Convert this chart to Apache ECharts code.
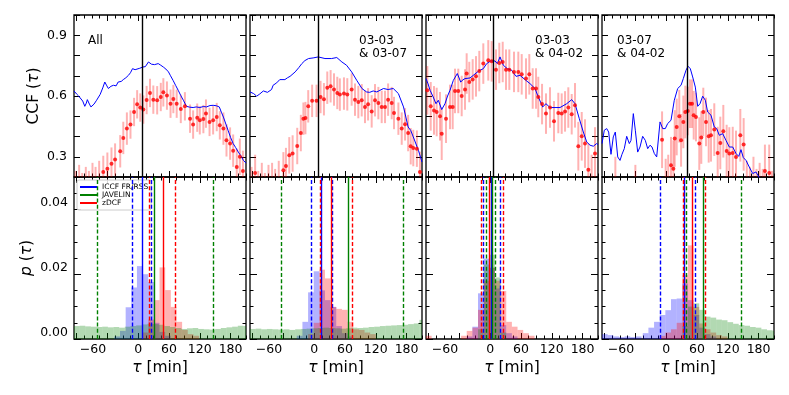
<!DOCTYPE html>
<html>
<head>
<meta charset="utf-8">
<script src="https://cdn.jsdelivr.net/npm/echarts@6/dist/echarts.min.js"></script>
<style>
  html, body { margin: 0; padding: 0; background: #fff; }
  #chart { width: 789px; height: 395px; }
</style>
</head>
<body>
<div id="chart"></div>
<script>
// ---- data ----
const panelLabels = ['All', '03-03\n& 03-07', '03-03\n& 04-02', '03-07\n& 04-02'];

// ICCF curves [tau, ccf]
const iccf1 = [[-125,0.625],[-120,0.61],[-116,0.60],[-113,0.595],[-108,0.575],[-104,0.549],[-101,0.565],[-99,0.582],[-95,0.56],[-92,0.546],[-86,0.56],[-81,0.579],[-74,0.608],[-69,0.64],[-65,0.669],[-61,0.65],[-58,0.637],[-53,0.648],[-48,0.653],[-43,0.65],[-39,0.669],[-33,0.672],[-29,0.681],[-24,0.69],[-19,0.702],[-15,0.715],[-11,0.735],[-6,0.73],[-3,0.727],[3,0.737],[9,0.743],[14,0.745],[20,0.768],[23,0.762],[26,0.757],[32,0.755],[39,0.760],[44,0.752],[49,0.743],[54,0.733],[59,0.719],[63,0.70],[68,0.677],[73,0.652],[78,0.628],[83,0.602],[88,0.579],[94,0.549],[100,0.545],[107,0.543],[113,0.546],[120,0.543],[127,0.548],[133,0.546],[140,0.553],[146,0.554],[152,0.552],[158,0.546],[162,0.52],[166,0.496],[171,0.46],[175,0.431],[180,0.395],[185,0.365],[190,0.345],[195,0.323],[200,0.305],[205,0.282],[210,0.269]];
const iccf2 = [[-125,0.620],[-118,0.612],[-112,0.599],[-106,0.61],[-99,0.625],[-91,0.618],[-83,0.632],[-80,0.653],[-73,0.665],[-67,0.681],[-57,0.681],[-52,0.69],[-47,0.697],[-37,0.719],[-30,0.74],[-24,0.760],[-18,0.775],[-11,0.785],[-2,0.788],[8,0.793],[21,0.785],[34,0.785],[44,0.790],[54,0.768],[63,0.752],[73,0.719],[83,0.677],[93,0.637],[102,0.620],[108,0.618],[115,0.625],[122,0.62],[128,0.628],[135,0.637],[144,0.632],[154,0.637],[164,0.612],[174,0.546],[183,0.447],[188,0.43],[193,0.398],[203,0.332],[210,0.274]];
const iccf3 = [[-125,0.686],[-121,0.66],[-117,0.628],[-111,0.595],[-105.5,0.562],[-101,0.579],[-94.4,0.533],[-88,0.562],[-83,0.6],[-78.3,0.628],[-71.8,0.677],[-64,0.711],[-57.4,0.669],[-53,0.68],[-49,0.686],[-39.3,0.689],[-32.9,0.702],[-23.1,0.722],[-13.4,0.735],[-6.8,0.760],[1,0.773],[9.4,0.773],[14,0.76],[19.1,0.793],[25.6,0.752],[33.4,0.735],[41.9,0.727],[50.3,0.697],[58.1,0.702],[67.8,0.681],[77.6,0.661],[87.3,0.637],[93.7,0.595],[102.3,0.546],[108.7,0.562],[116.5,0.543],[126.3,0.543],[136,0.543],[149.1,0.562],[158.8,0.582],[165.2,0.562],[173.6,0.488],[181.4,0.422],[188,0.373],[194.5,0.357],[200.9,0.352],[207.4,0.365],[210,0.36]];
const iccf4 = [[-125,0.365],[-120.5,0.431],[-115.8,0.439],[-112,0.422],[-107.5,0.312],[-103,0.398],[-99.1,0.422],[-94.4,0.299],[-89.9,0.282],[-86.1,0.312],[-81.6,0.340],[-76.9,0.401],[-71.8,0.365],[-68.5,0.381],[-64,0.513],[-60.1,0.431],[-55.5,0.323],[-51,0.348],[-45.8,0.401],[-40.7,0.381],[-36,0.340],[-31.5,0.357],[-27.6,0.348],[-23.1,0.316],[-18.5,0.299],[-12,0.472],[-6.8,0.439],[-1.7,0.439],[2.9,0.464],[9.4,0.480],[15.8,0.579],[22.4,0.637],[28.9,0.653],[33.4,0.686],[38.6,0.727],[42.5,0.747],[47,0.735],[51.6,0.694],[56.8,0.644],[61.4,0.549],[65.9,0.562],[71.1,0.599],[76.3,0.579],[80.8,0.521],[87.3,0.505],[93.7,0.447],[98.4,0.439],[103.5,0.406],[110.1,0.414],[116.5,0.381],[123,0.348],[129.6,0.348],[136,0.316],[141.3,0.302],[145.7,0.335],[150.2,0.296],[155.5,0.282],[161.9,0.249],[168.5,0.217],[174.9,0.225],[178.2,0.217],[185,0.18],[200,0.15],[210,0.14]];

// zDCF points [tau, ccf, error]
const zdcf1 = [[-122,0.14,0.09],[-115,0.17,0.09],[-109,0.12,0.1],[-102,0.16,0.09],[-96,0.13,0.1],[-89,0.18,0.09],[-83,0.15,0.1],[-76,0.19,0.09],[-68,0.225,0.08],[-60,0.241,0.08],[-52,0.266,0.08],[-45,0.286,0.08],[-35,0.327,0.08],[-29,0.393,0.08],[-22,0.439,0.08],[-15,0.459,0.07],[-8,0.521,0.07],[-2,0.559,0.07],[4,0.543,0.07],[10,0.533,0.07],[16.5,0.58,0.07],[23,0.615,0.07],[29.5,0.582,0.07],[37,0.579,0.07],[44,0.595,0.07],[49,0.618,0.07],[56,0.602,0.07],[63,0.562,0.07],[68.5,0.585,0.07],[75,0.562,0.07],[83,0.536,0.07],[91,0.549,0.07],[101,0.488,0.07],[107,0.459,0.07],[115,0.493,0.07],[120,0.480,0.07],[127,0.486,0.07],[132,0.513,0.07],[139,0.472,0.07],[146,0.480,0.07],[153,0.496,0.07],[159,0.455,0.07],[166,0.439,0.08],[172,0.381,0.08],[179,0.365,0.08],[185,0.33,0.08],[192,0.25,0.09],[198,0.30,0.09],[204,0.23,0.1]];
const zdcf2 = [[-122,0.15,0.1],[-115,0.22,0.09],[-109,0.13,0.1],[-102,0.17,0.1],[-96,0.12,0.1],[-89,0.16,0.1],[-82,0.18,0.09],[-76,0.14,0.1],[-69,0.19,0.09],[-60,0.233,0.09],[-55,0.254,0.09],[-48.5,0.307,0.09],[-42,0.316,0.09],[-33,0.353,0.09],[-26,0.417,0.09],[-21,0.488,0.08],[-17,0.491,0.08],[-11.6,0.549,0.08],[-4,0.576,0.08],[4.6,0.576,0.08],[12.4,0.595,0.08],[19,0.584,0.08],[25.5,0.641,0.08],[32,0.648,0.08],[38.6,0.632,0.08],[45,0.615,0.08],[50,0.607,0.08],[58,0.612,0.08],[64.5,0.608,0.08],[73,0.632,0.08],[79.5,0.582,0.08],[86,0.570,0.08],[92.6,0.579,0.08],[99,0.546,0.08],[105,0.559,0.08],[112,0.524,0.08],[118.5,0.579,0.08],[125,0.565,0.08],[131.5,0.546,0.08],[138,0.546,0.08],[144,0.582,0.08],[151,0.565,0.08],[155.5,0.516,0.08],[164,0.488,0.08],[170.5,0.439,0.08],[177,0.460,0.08],[183,0.417,0.09],[188,0.352,0.09],[193,0.343,0.09],[200,0.340,0.09],[206,0.225,0.1]];
const zdcf3 = [[-122.4,0.628,0.12],[-115.8,0.549,0.12],[-109.4,0.529,0.12],[-104.2,0.521,0.12],[-97.7,0.500,0.12],[-94.4,0.414,0.13],[-86,0.488,0.12],[-78.3,0.546,0.11],[-73,0.546,0.11],[-68.5,0.625,0.11],[-62.1,0.625,0.11],[-55.5,0.600,0.1],[-49,0.632,0.1],[-45.8,0.711,0.1],[-40.7,0.669,0.1],[-34.1,0.682,0.1],[-27.6,0.697,0.1],[-21.2,0.723,0.1],[-13.4,0.760,0.1],[-3.7,0.776,0.1],[2.9,0.771,0.1],[11.3,0.730,0.1],[17.8,0.763,0.1],[24.4,0.768,0.1],[30.8,0.730,0.1],[37.3,0.730,0.1],[46.4,0.719,0.1],[54.8,0.719,0.1],[61.4,0.707,0.1],[69.8,0.686,0.1],[76.2,0.707,0.1],[82.8,0.637,0.1],[89.3,0.637,0.1],[93.7,0.595,0.1],[101,0.56,0.1],[108.7,0.513,0.1],[116.5,0.543,0.1],[124.3,0.475,0.1],[132.7,0.516,0.1],[139.3,0.513,0.1],[145.8,0.524,0.1],[152.2,0.543,0.1],[158.8,0.510,0.1],[165.2,0.554,0.11],[171.7,0.352,0.12],[178.3,0.401,0.12],[184.7,0.365,0.12],[191.2,0.236,0.13],[197.6,0.18,0.13],[204.2,0.316,0.13]];
const zdcf4 = [[-122,0.02,0.13],[-116,0.05,0.13],[-109,0.0,0.14],[-103,0.04,0.13],[-99,0.16,0.14],[-92,0.03,0.13],[-86,0.0,0.14],[-79,0.05,0.13],[-73,0.02,0.13],[-66,0.06,0.13],[-60,0.12,0.14],[-53,0.03,0.13],[-47,0.0,0.14],[-40,0.04,0.13],[-34,0.02,0.13],[-27,0.05,0.13],[-21,0.03,0.14],[-14,0.06,0.13],[-8,0.384,0.14],[-1,0.15,0.14],[4,0.18,0.13],[9.4,0.258,0.14],[14,0.241,0.14],[16.6,0.390,0.14],[20.5,0.447,0.14],[25.5,0.500,0.13],[29,0.381,0.13],[33.4,0.472,0.13],[37.3,0.521,0.13],[42,0.526,0.12],[46.4,0.562,0.12],[50.3,0.562,0.12],[53.6,0.505,0.12],[58,0.496,0.12],[64.5,0.365,0.13],[68.4,0.395,0.13],[72.3,0.521,0.12],[77.6,0.472,0.12],[82.8,0.401,0.13],[87.3,0.406,0.13],[93.7,0.434,0.13],[100.3,0.318,0.13],[105.4,0.368,0.13],[111.3,0.426,0.13],[117.8,0.328,0.13],[123,0.316,0.13],[129.6,0.318,0.13],[136,0.299,0.13],[144.4,0.406,0.13],[150.9,0.361,0.13],[157,0.15,0.13],[163,0.12,0.13],[170,0.17,0.13],[176,0.1,0.14],[182,0.14,0.13],[188,0.11,0.13],[192.3,0.230,0.13],[200.7,0.220,0.14],[206,0.1,0.13]];

// lag histograms [bin left edge, p]
const binWidth = 11;
const iccfHist1 = [[-46.4,0.0008],[-35.4,0.0025],[-24.4,0.0098],[-13.4,0.0159],[-2.4,0.0225],[8.6,0.0200],[19.6,0.0176],[30.6,0.005],[41.6,0.0022],[52.6,0.001]];
const zdcfHist1 = [[8.6,0.002],[19.6,0.006],[30.6,0.012],[41.6,0.0221],[52.6,0.0151],[63.6,0.0099],[74.6,0.0053],[85.6,0.0028],[96.6,0.0015],[107.6,0.001]];
const javHist1 = [[-125,0.0040],[-114,0.0041],[-103,0.0039],[-92,0.0038],[-81,0.0037],[-70,0.0038],[-59,0.0036],[-48,0.0037],[-37,0.0035],[-26,0.0038],[-15,0.0040],[-4,0.0042],[7,0.0045],[18,0.0047],[29,0.0046],[40,0.0044],[51,0.0040],[62,0.0037],[73,0.0034],[84,0.0031],[95,0.0033],[106,0.0034],[117,0.0031],[128,0.0030],[139,0.0029],[150,0.0031],[161,0.0034],[172,0.0036],[183,0.0038],[194,0.0041],[205,0.0040]];
const iccfHist2 = [[-33.9,0.001],[-22.9,0.0053],[-11.9,0.0144],[-0.9,0.0209],[10.1,0.015],[21.1,0.012],[32.1,0.0099],[43.1,0.004],[54.1,0.0018],[65.1,0.0008]];
const zdcfHist2 = [[-11.9,0.0015],[-0.9,0.005],[10.1,0.0214],[21.1,0.0187],[32.1,0.0099],[43.1,0.0093],[54.1,0.009],[65.1,0.0053],[76.1,0.003],[87.1,0.0028],[98.1,0.002],[109.1,0.0015]];
const javHist2 = [[-125,0.0031],[-114,0.0032],[-103,0.0030],[-92,0.0031],[-81,0.0030],[-70,0.0029],[-59,0.0030],[-48,0.0028],[-37,0.0030],[-26,0.0031],[-15,0.0032],[-4,0.0033],[7,0.0034],[18,0.0035],[29,0.0034],[40,0.0033],[51,0.0032],[62,0.0033],[73,0.0035],[84,0.0034],[95,0.0035],[106,0.0037],[117,0.0038],[128,0.0040],[139,0.0041],[150,0.0042],[161,0.0043],[172,0.0044],[183,0.0046],[194,0.0048],[205,0.0059]];
const iccfHist3 = [[-45.7,0.0008],[-34.7,0.0038],[-23.7,0.0141],[-12.7,0.0248],[-1.7,0.022],[9.3,0.0156],[20.3,0.0043],[31.3,0.0018],[42.3,0.0008]];
const zdcfHist3 = [[-125,0.001],[-56.7,0.001],[-45.7,0.0025],[-34.7,0.0035],[-23.7,0.009],[-12.7,0.018],[-1.7,0.022],[9.3,0.018],[20.3,0.0148],[31.3,0.0053],[42.3,0.0038],[53.3,0.0028],[64.3,0.0018],[75.3,0.001]];
const javHist3 = [[-23.7,0.003],[-12.7,0.023],[-1.7,0.026],[9.3,0.019],[20.3,0.002]];
const iccfHist4 = [[-125,0.0015],[-114,0.0012],[-103,0.0008],[-92,0.0006],[-81,0.0008],[-70,0.0006],[-59,0.0008],[-45.6,0.0018],[-34.6,0.0035],[-23.6,0.0053],[-12.6,0.0074],[-1.6,0.0089],[9.4,0.0123],[20.4,0.0125],[31.4,0.0171],[42.4,0.012],[53.4,0.0074],[64.4,0.0035],[75.4,0.0015],[86.4,0.0008]];
const zdcfHist4 = [[-12.6,0.001],[-1.6,0.002],[9.4,0.003],[20.4,0.005],[31.4,0.0197],[42.4,0.0289],[53.4,0.0099],[64.4,0.0048],[75.4,0.003],[86.4,0.002],[97.4,0.0012],[108.4,0.0008]];
const javHist4 = [[31.4,0.004],[42.4,0.010],[53.4,0.011],[64.4,0.009],[75.4,0.0069],[86.4,0.0066],[97.4,0.006],[108.4,0.0058],[119.4,0.0052],[130.4,0.0047],[141.4,0.0043],[152.4,0.0041],[163.4,0.0037],[174.4,0.0035],[185.4,0.003],[196.4,0.0027],[207.4,0.0025]];

// lag estimates [lower, median, upper]
const iccfLags = [[-10.7, 8.8, 26.3], [-6.2, 13.3, 36], [-13.4, 1.6, 19.1], [-11.4, 35.3, 56.8]];
const zdcfLags = [[21.1, 49, 73.1], [11.3, 32.8, 73.7], [-17.9, -1.7, 25.6], [33.4, 50.3, 75.6]];
const javelinLags = [[-78.8, 30.8, 146.4], [-63.3, 67.2, 174.4], [-6.8, 4.9, 10], [40, 72.3, 145.7]];
const peakLags = [8.8, 8, 6, 40.6];

// axis ticks
const tauRange = [-125, 210];
const ccfRange = [0.2, 1.0];
const pRange = [0, 0.05];
const xMajorTicks = [-120, -60, 0, 60, 120, 180];
const xMinorTicks = [-105, -90, -75, -45, -30, -15, 15, 30, 45, 75, 90, 105, 135, 150, 165, 195, 210];
const xLabelPos = [-88, 0, 60, 120, 180];
const xLabelText = ['\u221260', '0', '60', '120', '180'];
const ccfTicks = [0.2, 0.3, 0.4, 0.5, 0.6, 0.7, 0.8, 0.9, 1.0];
const ccfLabels = [0.3, 0.6, 0.9];
const pMajorTicks = [0, 0.02, 0.04];
const pMinorTicks = [0.005, 0.01, 0.015, 0.025, 0.03, 0.035, 0.045];

const iccfCurves = [iccf1, iccf2, iccf3, iccf4];
const zdcfPoints = [zdcf1, zdcf2, zdcf3, zdcf4];
const iccfHists = [iccfHist1, iccfHist2, iccfHist3, iccfHist4];
const zdcfHists = [zdcfHist1, zdcfHist2, zdcfHist3, zdcfHist4];
const javHists = [javHist1, javHist2, javHist3, javHist4];

const FONT = 'DejaVu Sans';
const colLeft = [74, 250, 426, 602];
const rowTop = [15, 177];
const panelW = 172, panelH = 162;

const chart = echarts.init(document.getElementById('chart'), null, {renderer: 'canvas'});

const grids = [], xAxes = [], yAxes = [], series = [];
const mainX = [], mainY = [];

function tickAxis(gridIndex, range, position, ticks, len) {
  return {
    type: 'value', gridIndex: gridIndex, min: range[0], max: range[1], position: position,
    axisLine: {show: false, onZero: false},
    axisTick: {show: true, inside: true, length: len, customValues: ticks, lineStyle: {color: '#000', width: 1}},
    axisLabel: {show: false},
    splitLine: {show: false},
    silent: true
  };
}

for (let g = 0; g < 8; g++) {
  const row = g < 4 ? 0 : 1, col = g % 4;
  grids.push({left: colLeft[col], top: rowTop[row], width: panelW, height: panelH,
    show: true, borderColor: '#000', borderWidth: 1.3, backgroundColor: 'transparent',
    containLabel: false, outerBoundsMode: 'none'});

  // x axes: bottom (main) + minor, top + minor
  const xb = tickAxis(g, tauRange, 'bottom', xMajorTicks, 6);
  if (row === 1) {
    xb.axisLabel = {show: true, customValues: xLabelPos, margin: 4, color: '#000', fontSize: 12.5, fontFamily: FONT,
      formatter: v => xLabelText[xLabelPos.indexOf(v)]};
    xb.name = '{i|\u03c4} [min]';
    xb.nameLocation = 'middle';
    xb.nameGap = 21;
    xb.nameTextStyle = {color: '#000', fontSize: 15.5, fontFamily: FONT,
      rich: {i: {fontStyle: 'italic', fontSize: 15.5, fontFamily: FONT, color: '#000'}}};
  }
  mainX.push(xAxes.length); xAxes.push(xb);
  xAxes.push(tickAxis(g, tauRange, 'bottom', xMinorTicks, 3.5));
  xAxes.push(tickAxis(g, tauRange, 'top', xMajorTicks, 6));
  xAxes.push(tickAxis(g, tauRange, 'top', xMinorTicks, 3.5));

  // y axes
  if (row === 0) {
    const yl = tickAxis(g, ccfRange, 'left', ccfTicks, 6);
    if (col === 0) {
      yl.axisLabel = {show: true, customValues: ccfLabels, margin: 7, color: '#000', fontSize: 12.5, fontFamily: FONT,
        formatter: v => v.toFixed(1)};
      yl.name = 'CCF ({i|\u03c4})';
      yl.nameLocation = 'middle';
      yl.nameGap = 32;
      yl.nameTextStyle = {color: '#000', fontSize: 15.5, fontFamily: FONT,
        rich: {i: {fontStyle: 'italic', fontSize: 15.5, fontFamily: FONT, color: '#000'}}};
    }
    mainY.push(yAxes.length); yAxes.push(yl);
    yAxes.push(tickAxis(g, ccfRange, 'right', ccfTicks, 6));
  } else {
    const yl = tickAxis(g, pRange, 'left', pMajorTicks, 7);
    if (col === 0) {
      // labels sit a little above their ticks in the reference
      yl.axisLabel = {show: true, customValues: pMajorTicks, margin: 6, color: '#000', fontSize: 12.5, fontFamily: FONT,
        lineHeight: 13, formatter: v => v.toFixed(2) + '\n '};
      yl.name = '{i|p} ({i|\u03c4})';
      yl.nameLocation = 'middle';
      yl.nameGap = 39;
      yl.nameTextStyle = {color: '#000', fontSize: 15.5, fontFamily: FONT,
        rich: {i: {fontStyle: 'italic', fontSize: 15.5, fontFamily: FONT, color: '#000'}}};
    }
    mainY.push(yAxes.length); yAxes.push(yl);
    yAxes.push(tickAxis(g, pRange, 'left', pMinorTicks, 3.5));
    yAxes.push(tickAxis(g, pRange, 'right', pMajorTicks, 7));
    yAxes.push(tickAxis(g, pRange, 'right', pMinorTicks, 3.5));
  }
}

function errorBar(params, api) {
  const x = api.value(0), v = api.value(1), e = api.value(2);
  const a = api.coord([x, v - e]);
  const b = api.coord([x, v + e]);
  return {type: 'line', shape: {x1: a[0], y1: a[1], x2: b[0], y2: b[1]},
    style: {stroke: 'rgba(255,0,0,0.3)', lineWidth: 2}};
}

function histBar(fill) {
  return function (params, api) {
    const x0 = api.value(0), h = api.value(1);
    const p0 = api.coord([x0, h]);
    const p1 = api.coord([x0 + binWidth, 0]);
    return {type: 'rect', shape: {x: p0[0], y: p0[1], width: p1[0] - p0[0], height: p1[1] - p0[1]},
      style: {fill: fill}};
  };
}

function lagLines(lags, color) {
  const dash = [4, 2.2];
  return {
    silent: true, symbol: ['none', 'none'], label: {show: false}, animation: false,
    lineStyle: {color: color, width: 1.4},
    data: [
      {xAxis: lags[0], lineStyle: {color: color, width: 1.4, type: dash}},
      {xAxis: lags[1], lineStyle: {color: color, width: 1.4, type: 'solid'}},
      {xAxis: lags[2], lineStyle: {color: color, width: 1.4, type: dash}}
    ]
  };
}

for (let c = 0; c < 4; c++) {
  const gt = c, gb = c + 4;
  // top: CCF
  series.push({type: 'custom', name: 'zDCF err', xAxisIndex: mainX[gt], yAxisIndex: mainY[gt],
    data: zdcfPoints[c], renderItem: errorBar, clip: true, encode: {x: 0, y: 1}, z: 2});
  series.push({type: 'line', name: 'ICCF curve', xAxisIndex: mainX[gt], yAxisIndex: mainY[gt],
    data: iccfCurves[c], symbol: 'none', showSymbol: false, clip: true, z: 3,
    lineStyle: {color: '#0000ff', width: 1},
    markLine: {silent: true, symbol: ['none', 'none'], label: {show: false},
      lineStyle: {color: '#000', width: 1.4, type: 'solid'}, data: [{xAxis: peakLags[c]}]}});
  series.push({type: 'scatter', name: 'zDCF pts', xAxisIndex: mainX[gt], yAxisIndex: mainY[gt],
    data: zdcfPoints[c].map(d => [d[0], d[1]]), symbolSize: 4, clip: true, z: 4,
    itemStyle: {color: '#ff0000'}});

  // bottom: lag distributions
  series.push({type: 'custom', name: 'ICCF FR/RSS', xAxisIndex: mainX[gb], yAxisIndex: mainY[gb],
    data: iccfHists[c], renderItem: histBar('rgba(0,0,255,0.3)'), clip: true, encode: {x: 0, y: 1},
    itemStyle: {color: '#0000ff'}, z: 2, markLine: lagLines(iccfLags[c], '#0000ff')});
  series.push({type: 'custom', name: 'zDCF', xAxisIndex: mainX[gb], yAxisIndex: mainY[gb],
    data: zdcfHists[c], renderItem: histBar('rgba(255,0,0,0.3)'), clip: true, encode: {x: 0, y: 1},
    itemStyle: {color: '#ff0000'}, z: 2, markLine: lagLines(zdcfLags[c], '#ff0000')});
  series.push({type: 'custom', name: 'JAVELIN', xAxisIndex: mainX[gb], yAxisIndex: mainY[gb],
    data: javHists[c], renderItem: histBar('rgba(0,128,0,0.3)'), clip: true, encode: {x: 0, y: 1},
    itemStyle: {color: '#008000'}, z: 2, markLine: lagLines(javelinLags[c], '#008000')});
}

const labelLeft = [88, 359, 535, 617];

chart.setOption({
  animation: false,
  backgroundColor: '#fff',
  grid: grids,
  xAxis: xAxes,
  yAxis: yAxes,
  series: series,
  legend: {
    left: 77, top: 180, orient: 'vertical',
    data: [
      {name: 'ICCF FR/RSS', itemStyle: {color: '#0000ff'}},
      {name: 'JAVELIN', itemStyle: {color: '#008000'}},
      {name: 'zDCF', itemStyle: {color: '#ff0000'}}
    ],
    icon: 'rect', itemWidth: 17, itemHeight: 2, itemGap: 0,
    padding: [3, 3, 3, 3],
    backgroundColor: 'rgba(255,255,255,0.85)', borderColor: '#cccccc', borderWidth: 1, borderRadius: 2,
    textStyle: {fontSize: 7.5, lineHeight: 7, color: '#000', fontFamily: FONT},
    selectedMode: false
  },
  graphic: panelLabels.map((t, c) => ({
    type: 'text', left: labelLeft[c], top: 34, silent: true,
    style: {text: t, fill: '#000', fontSize: 12, fontFamily: FONT, lineHeight: 13}
  }))
});
</script>
</body>
</html>
